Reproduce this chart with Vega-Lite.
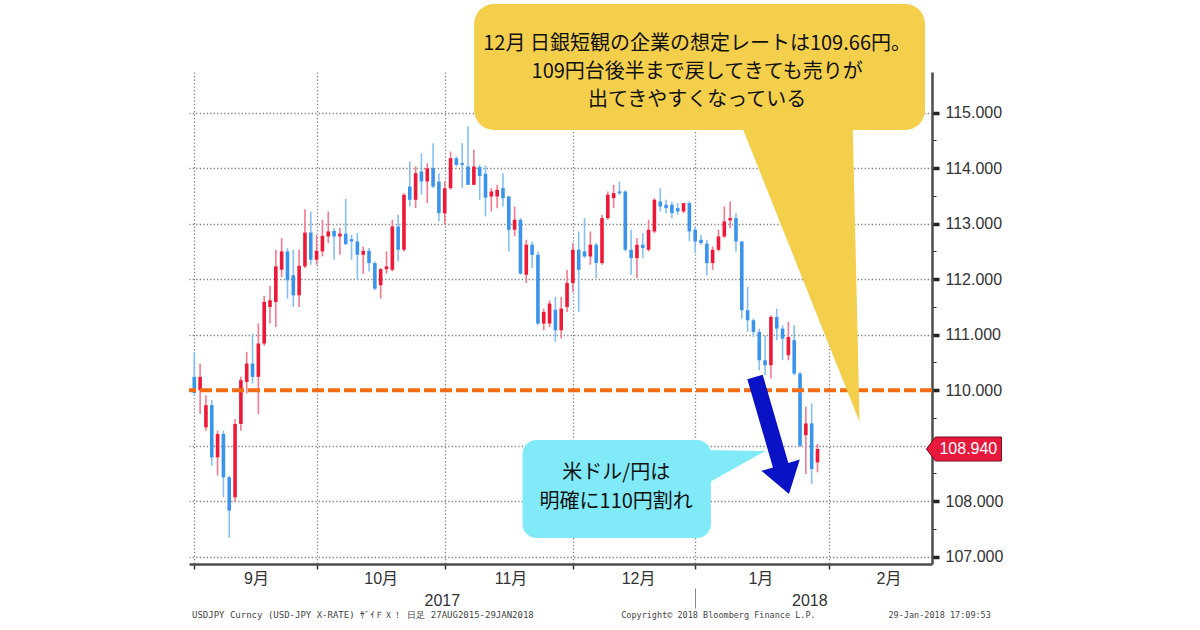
{
  "$schema": "https://vega.github.io/schema/vega-lite/v6.json",
  "width": 743,
  "height": 492,
  "autosize": "none",
  "padding": {"left": 189, "top": 72, "right": 268, "bottom": 66},
  "background": "#ffffff",
  "config": {"view": {"stroke": null}, "axis": {"labelFont": "Liberation Sans", "titleFont": "Liberation Sans"}},
  "datasets": {
    "fx": [
      {"k":0,"o":110.24,"h":110.69,"l":109.91,"c":109.95},
      {"k":1,"o":110.0,"h":110.48,"l":109.57,"c":110.24},
      {"k":2,"o":109.33,"h":109.91,"l":109.27,"c":109.73},
      {"k":3,"o":109.73,"h":109.82,"l":108.64,"c":108.79},
      {"k":4,"o":108.79,"h":109.27,"l":108.46,"c":109.21},
      {"k":5,"o":109.21,"h":109.27,"l":108.07,"c":108.43},
      {"k":6,"o":108.43,"h":108.46,"l":107.34,"c":107.83},
      {"k":7,"o":108.07,"h":109.48,"l":107.98,"c":109.39},
      {"k":8,"o":109.39,"h":110.24,"l":109.27,"c":110.18},
      {"k":9,"o":110.15,"h":110.69,"l":109.94,"c":110.48},
      {"k":10,"o":110.48,"h":111.02,"l":110.12,"c":110.24},
      {"k":11,"o":110.24,"h":111.2,"l":109.57,"c":110.84},
      {"k":12,"o":110.84,"h":111.7,"l":110.8,"c":111.59},
      {"k":13,"o":111.5,"h":111.88,"l":111.2,"c":111.62},
      {"k":14,"o":111.59,"h":112.53,"l":111.14,"c":112.23},
      {"k":15,"o":112.17,"h":112.74,"l":112.04,"c":112.5},
      {"k":16,"o":112.5,"h":112.56,"l":111.65,"c":111.98},
      {"k":17,"o":112.07,"h":112.53,"l":111.5,"c":111.71},
      {"k":18,"o":111.71,"h":112.53,"l":111.5,"c":112.24},
      {"k":19,"o":112.23,"h":113.26,"l":112.2,"c":112.84},
      {"k":20,"o":112.84,"h":113.22,"l":112.26,"c":112.35},
      {"k":21,"o":112.35,"h":112.8,"l":112.26,"c":112.51},
      {"k":22,"o":112.5,"h":113.07,"l":112.41,"c":112.78},
      {"k":23,"o":112.77,"h":113.22,"l":112.65,"c":112.86},
      {"k":24,"o":112.87,"h":112.92,"l":112.35,"c":112.77},
      {"k":25,"o":112.77,"h":112.92,"l":112.44,"c":112.82},
      {"k":26,"o":112.82,"h":113.45,"l":112.62,"c":112.63},
      {"k":27,"o":112.72,"h":112.8,"l":112.35,"c":112.68},
      {"k":28,"o":112.68,"h":112.83,"l":111.98,"c":112.44},
      {"k":29,"o":112.44,"h":112.59,"l":112.1,"c":112.51},
      {"k":30,"o":112.51,"h":112.56,"l":112.14,"c":112.29},
      {"k":31,"o":112.29,"h":112.32,"l":111.8,"c":111.83},
      {"k":32,"o":111.89,"h":112.2,"l":111.65,"c":112.18},
      {"k":33,"o":112.18,"h":112.5,"l":112.1,"c":112.23},
      {"k":34,"o":112.17,"h":113.07,"l":112.14,"c":112.95},
      {"k":35,"o":112.95,"h":113.16,"l":112.32,"c":112.53},
      {"k":36,"o":112.53,"h":113.55,"l":112.5,"c":113.52},
      {"k":37,"o":113.67,"h":114.12,"l":113.31,"c":113.43},
      {"k":38,"o":113.43,"h":114.03,"l":113.28,"c":113.91},
      {"k":39,"o":113.94,"h":114.27,"l":113.52,"c":113.76},
      {"k":40,"o":113.76,"h":114.09,"l":113.37,"c":114.0},
      {"k":41,"o":114.0,"h":114.45,"l":113.64,"c":113.67},
      {"k":42,"o":113.76,"h":113.91,"l":113.04,"c":113.19},
      {"k":43,"o":113.19,"h":113.76,"l":112.98,"c":113.64},
      {"k":44,"o":113.64,"h":114.3,"l":113.61,"c":114.18},
      {"k":45,"o":114.18,"h":114.21,"l":114.03,"c":114.06},
      {"k":46,"o":114.09,"h":114.45,"l":113.64,"c":114.06},
      {"k":47,"o":114.03,"h":114.75,"l":113.7,"c":113.7},
      {"k":48,"o":113.7,"h":114.33,"l":113.7,"c":114.03},
      {"k":49,"o":114.02,"h":114.06,"l":113.43,"c":113.86},
      {"k":50,"o":113.9,"h":114.05,"l":113.13,"c":113.47},
      {"k":51,"o":113.49,"h":113.64,"l":113.22,"c":113.58},
      {"k":52,"o":113.49,"h":113.7,"l":113.28,"c":113.61},
      {"k":53,"o":113.64,"h":113.91,"l":113.31,"c":113.46},
      {"k":54,"o":113.49,"h":113.49,"l":112.5,"c":112.89},
      {"k":55,"o":112.89,"h":113.31,"l":112.77,"c":113.07},
      {"k":56,"o":113.07,"h":113.1,"l":112.08,"c":112.1},
      {"k":57,"o":112.08,"h":112.71,"l":111.93,"c":112.62},
      {"k":58,"o":112.62,"h":112.68,"l":112.2,"c":112.44},
      {"k":59,"o":112.44,"h":112.5,"l":111.17,"c":111.2},
      {"k":60,"o":111.2,"h":111.47,"l":111.08,"c":111.41},
      {"k":61,"o":111.2,"h":111.62,"l":111.14,"c":111.56},
      {"k":62,"o":111.45,"h":111.68,"l":110.87,"c":111.08},
      {"k":63,"o":111.08,"h":111.68,"l":110.93,"c":111.47},
      {"k":64,"o":111.5,"h":112.17,"l":111.41,"c":111.93},
      {"k":65,"o":111.93,"h":112.65,"l":111.77,"c":112.53},
      {"k":66,"o":112.53,"h":112.86,"l":111.41,"c":112.17},
      {"k":67,"o":112.5,"h":113.1,"l":112.38,"c":112.41},
      {"k":68,"o":112.41,"h":112.86,"l":112.26,"c":112.62},
      {"k":69,"o":112.62,"h":112.65,"l":112.02,"c":112.29},
      {"k":70,"o":112.29,"h":113.16,"l":112.26,"c":113.1},
      {"k":71,"o":113.1,"h":113.58,"l":113.07,"c":113.52},
      {"k":72,"o":113.46,"h":113.7,"l":113.28,"c":113.55},
      {"k":73,"o":113.58,"h":113.76,"l":113.52,"c":113.55},
      {"k":74,"o":113.58,"h":113.6,"l":112.5,"c":112.53},
      {"k":75,"o":112.53,"h":112.89,"l":112.08,"c":112.38},
      {"k":76,"o":112.38,"h":112.74,"l":112.02,"c":112.62},
      {"k":77,"o":112.62,"h":112.83,"l":112.38,"c":112.56},
      {"k":78,"o":112.53,"h":113.07,"l":112.5,"c":112.89},
      {"k":79,"o":112.86,"h":113.46,"l":112.83,"c":113.43},
      {"k":80,"o":113.4,"h":113.64,"l":113.22,"c":113.31},
      {"k":81,"o":113.34,"h":113.43,"l":113.19,"c":113.28},
      {"k":82,"o":113.34,"h":113.4,"l":113.1,"c":113.19},
      {"k":83,"o":113.28,"h":113.37,"l":113.16,"c":113.22},
      {"k":84,"o":113.22,"h":113.37,"l":113.19,"c":113.37},
      {"k":85,"o":113.37,"h":113.4,"l":112.68,"c":112.86},
      {"k":86,"o":112.89,"h":112.95,"l":112.47,"c":112.68},
      {"k":87,"o":112.71,"h":112.8,"l":112.62,"c":112.65},
      {"k":88,"o":112.64,"h":112.71,"l":112.07,"c":112.29},
      {"k":89,"o":112.29,"h":112.59,"l":112.17,"c":112.53},
      {"k":90,"o":112.53,"h":112.89,"l":112.5,"c":112.77},
      {"k":91,"o":112.77,"h":113.31,"l":112.74,"c":113.04},
      {"k":92,"o":113.06,"h":113.4,"l":112.92,"c":113.1},
      {"k":93,"o":113.1,"h":113.19,"l":112.5,"c":112.68},
      {"k":94,"o":112.68,"h":112.68,"l":111.29,"c":111.44},
      {"k":95,"o":111.44,"h":111.86,"l":111.05,"c":111.26},
      {"k":96,"o":111.26,"h":111.29,"l":110.96,"c":111.05},
      {"k":97,"o":111.05,"h":111.11,"l":110.36,"c":110.54},
      {"k":98,"o":110.54,"h":110.99,"l":110.27,"c":110.45},
      {"k":99,"o":110.45,"h":111.35,"l":110.21,"c":111.32},
      {"k":100,"o":111.32,"h":111.47,"l":110.9,"c":111.11},
      {"k":101,"o":111.11,"h":111.17,"l":110.54,"c":110.93},
      {"k":102,"o":110.63,"h":111.23,"l":110.54,"c":110.96},
      {"k":103,"o":110.9,"h":111.17,"l":110.27,"c":110.3},
      {"k":104,"o":110.3,"h":110.33,"l":108.97,"c":109.0},
      {"k":105,"o":109.19,"h":109.7,"l":108.49,"c":109.4},
      {"k":106,"o":109.4,"h":109.76,"l":108.31,"c":108.58},
      {"k":107,"o":108.7,"h":109.03,"l":108.52,"c":108.94}
    ]
  },
  "data": {"name": "fx"},
  "layer": [
    {
      "mark": {"type": "rule", "strokeWidth": 1.6},
      "encoding": {
        "x": {
          "field": "k", "type": "quantitative",
          "scale": {"domain": [-0.05, 125.8], "nice": false, "zero": false},
          "axis": {
            "orient": "bottom", "title": null, "values": [0, 21, 43, 65, 86, 109],
            "labels": false, "ticks": true, "tickSize": 5, "tickColor": "#333333", "tickWidth": 1.5,
            "domain": true, "domainColor": "#4d4d4d", "domainWidth": 2.5,
            "grid": true, "gridColor": "#808080", "gridDash": [1.3, 2.2], "gridWidth": 1.3
          }
        },
        "y": {
          "field": "l", "type": "quantitative",
          "scale": {"domain": [106.868, 115.733], "nice": false, "zero": false},
          "axis": {
            "orient": "right", "title": null,
            "values": [107, 107.5, 108, 108.5, 109, 109.5, 110, 110.5, 111, 111.5, 112, 112.5, 113, 113.5, 114, 114.5, 115],
            "labelExpr": "(datum.value % 1 === 0 && datum.value !== 109) ? format(datum.value, '.3f') : ''",
            "labelFont": "Liberation Sans", "labelFontSize": 16, "labelColor": "#333333",
            "labelPadding": 6, "labelOverlap": false, "labelFlush": false,
            "tickSize": {"condition": {"test": "datum.value % 1 === 0", "value": 7}, "value": 4},
            "tickWidth": {"condition": {"test": "datum.value % 1 === 0", "value": 3.5}, "value": 1},
            "tickColor": "#222222",
            "domain": true, "domainColor": "#4d4d4d", "domainWidth": 2.5,
            "grid": true, "gridColor": "#808080", "gridDash": [1.3, 2.2], "gridWidth": 1.3,
            "gridOpacity": {"condition": {"test": "datum.value % 1 === 0 && datum.value !== 110", "value": 1}, "value": 0}
          }
        },
        "y2": {"field": "h"},
        "color": {"condition": {"test": "datum.c >= datum.o", "value": "#F47A8F"}, "value": "#86C0F3"}
      }
    },
    {
      "mark": {"type": "bar", "size": 3.6},
      "encoding": {
        "x": {
          "field": "k", "type": "quantitative",
          "scale": {"domain": [-0.05, 125.8], "nice": false, "zero": false},
          "axis": {
            "orient": "bottom", "title": null, "values": [10.6, 32, 54.3, 76.2, 97.2, 119.2],
            "ticks": false, "domain": false, "grid": false,
            "labelExpr": "datum.value < 20 ? '9月' : datum.value < 40 ? '10月' : datum.value < 60 ? '11月' : datum.value < 85 ? '12月' : datum.value < 110 ? '1月' : '2月'",
            "labelFont": "Liberation Sans, Noto Sans CJK JP", "labelFontSize": 16, "labelColor": "#333333",
            "labelPadding": 6, "labelFlush": false, "labelOverlap": false
          }
        },
        "y": {"field": "o", "type": "quantitative", "scale": {"domain": [106.868, 115.733], "nice": false, "zero": false}, "axis": null},
        "y2": {"field": "c"},
        "color": {"condition": {"test": "datum.c >= datum.o", "value": "#EE1838"}, "value": "#3A94EC"}
      }
    },
    {
      "data": {"values": [{}]},
      "mark": {"type": "rule", "color": "#F26B15", "strokeWidth": 4, "strokeDash": [12, 4]},
      "encoding": {
        "y": {"datum": 110, "type": "quantitative", "scale": {"domain": [106.868, 115.733], "nice": false, "zero": false}, "axis": null}
      }
    },
    {
      "data": {"values": [{}]},
      "mark": {"type": "rect", "color": "#F4CF4B", "cornerRadius": 20},
      "encoding": {
        "x": {
          "datum": 48.05, "type": "quantitative",
          "scale": {"domain": [-0.05, 125.8], "nice": false, "zero": false},
          "axis": {
            "orient": "bottom", "title": null, "offset": 24, "values": [42.5, 86, 105.6],
            "domain": false, "grid": false, "ticks": true, "tickSize": 20, "tickWidth": 1, "tickColor": "#888888",
            "tickOpacity": {"condition": {"test": "datum.value === 86", "value": 1}, "value": 0},
            "labelExpr": "datum.value === 86 ? '' : (datum.value < 60 ? '2017' : '2018')",
            "labelFont": "Liberation Sans", "labelFontSize": 16, "labelColor": "#333333",
            "labelPadding": -16, "labelFlush": false, "labelOverlap": false
          }
        },
        "x2": {"datum": 125.45},
        "y": {"datum": 116.958, "type": "quantitative", "scale": {"domain": [106.868, 115.733], "nice": false, "zero": false}, "axis": null},
        "y2": {"datum": 114.688}
      }
    },
    {
      "data": {"values": [{}]},
      "mark": {"type": "point", "filled": true, "opacity": 1, "color": "#F4CF4B", "strokeWidth": 0, "size": 90000,
               "shape": "M-0.393,-0.993L0.347,-0.993L0.393,0.98Z"},
      "encoding": {
        "x": {"datum": 104.11, "type": "quantitative", "scale": {"domain": [-0.05, 125.8], "nice": false, "zero": false}, "axis": null},
        "y": {"datum": 112.075, "type": "quantitative", "scale": {"domain": [106.868, 115.733], "nice": false, "zero": false}, "axis": null}
      }
    },
    {
      "data": {"values": [{}]},
      "mark": {"type": "text", "text": ["12月 日銀短観の企業の想定レートは109.66円。", "109円台後半まで戻してきても売りが", "出てきやすくなっている"],
               "font": "Noto Sans CJK JP", "fontSize": 20, "lineHeight": 28, "align": "center", "baseline": "middle", "color": "#111111"},
      "encoding": {
        "x": {"datum": 86.33, "type": "quantitative", "scale": {"domain": [-0.05, 125.8], "nice": false, "zero": false}, "axis": null},
        "y": {"datum": 116.24, "type": "quantitative", "scale": {"domain": [106.868, 115.733], "nice": false, "zero": false}, "axis": null}
      }
    },
    {
      "data": {"values": [{}]},
      "mark": {"type": "rect", "color": "#80EAF9", "cornerRadius": 14},
      "encoding": {
        "x": {"datum": 56.35, "type": "quantitative", "scale": {"domain": [-0.05, 125.8], "nice": false, "zero": false}, "axis": null},
        "x2": {"datum": 88.7},
        "y": {"datum": 109.102, "type": "quantitative", "scale": {"domain": [106.868, 115.733], "nice": false, "zero": false}, "axis": null},
        "y2": {"datum": 107.337}
      }
    },
    {
      "data": {"values": [{}]},
      "mark": {"type": "point", "filled": true, "opacity": 1, "color": "#80EAF9", "strokeWidth": 0, "size": 6400,
               "shape": "M-0.775,-0.45L-0.775,0.45L0.8,-0.425Z"},
      "encoding": {
        "x": {"datum": 92.59, "type": "quantitative", "scale": {"domain": [-0.05, 125.8], "nice": false, "zero": false}, "axis": null},
        "y": {"datum": 108.598, "type": "quantitative", "scale": {"domain": [106.868, 115.733], "nice": false, "zero": false}, "axis": null}
      }
    },
    {
      "data": {"values": [{}]},
      "mark": {"type": "text", "text": ["米ドル/円は", "明確に110円割れ"],
               "font": "Noto Sans CJK JP", "fontSize": 20, "lineHeight": 29, "align": "center", "baseline": "middle", "color": "#111111"},
      "encoding": {
        "x": {"datum": 72.44, "type": "quantitative", "scale": {"domain": [-0.05, 125.8], "nice": false, "zero": false}, "axis": null},
        "y": {"datum": 108.508, "type": "quantitative", "scale": {"domain": [106.868, 115.733], "nice": false, "zero": false}, "axis": null}
      }
    },
    {
      "data": {"values": [{}]},
      "mark": {"type": "point", "filled": true, "opacity": 1, "color": "#0A12C6", "strokeWidth": 0, "size": 14400,
               "shape": "M-0.437,-0.922L-0.18,-0.995L0.247,0.475L0.438,0.418L0.258,0.992L-0.202,0.605L-0.01,0.548Z"},
      "encoding": {
        "x": {"datum": 99.45, "type": "quantitative", "scale": {"domain": [-0.05, 125.8], "nice": false, "zero": false}, "axis": null},
        "y": {"datum": 109.201, "type": "quantitative", "scale": {"domain": [106.868, 115.733], "nice": false, "zero": false}, "axis": null}
      }
    },
    {
      "data": {"values": [{}]},
      "mark": {"type": "point", "filled": true, "opacity": 1, "fill": "#E8193C", "stroke": "#7A0A1A", "strokeWidth": 1, "size": 6400,
               "shape": "M-0.95,0L-0.725,-0.3L0.925,-0.3L0.925,0.3L-0.725,0.3Z"},
      "encoding": {
        "x": {"datum": 132.23, "type": "quantitative", "scale": {"domain": [-0.05, 125.8], "nice": false, "zero": false}, "axis": null},
        "y": {"datum": 108.94, "type": "quantitative", "scale": {"domain": [106.868, 115.733], "nice": false, "zero": false}, "axis": null}
      }
    },
    {
      "data": {"values": [{}]},
      "mark": {"type": "text", "text": "108.940", "font": "Liberation Sans", "fontSize": 16, "align": "center", "baseline": "middle", "color": "#ffffff"},
      "encoding": {
        "x": {"datum": 132.9, "type": "quantitative", "scale": {"domain": [-0.05, 125.8], "nice": false, "zero": false}, "axis": null},
        "y": {"datum": 108.94, "type": "quantitative", "scale": {"domain": [106.868, 115.733], "nice": false, "zero": false}, "axis": null}
      }
    },
    {
      "data": {"values": [{}]},
      "mark": {"type": "text", "text": "USDJPY Curncy (USD-JPY X-RATE) ｻﾞｲＦＸ！  日足 27AUG2015-29JAN2018", "font": "DejaVu Sans Mono", "fontSize": 9, "align": "left", "baseline": "middle", "color": "#444444"},
      "encoding": {
        "x": {"datum": -0.39, "type": "quantitative", "scale": {"domain": [-0.05, 125.8], "nice": false, "zero": false}, "axis": null},
        "y": {"datum": 105.949, "type": "quantitative", "scale": {"domain": [106.868, 115.733], "nice": false, "zero": false}, "axis": null}
      }
    },
    {
      "data": {"values": [{}]},
      "mark": {"type": "text", "text": "Copyright© 2018 Bloomberg Finance L.P.", "font": "DejaVu Sans Mono", "fontSize": 8.5, "align": "left", "baseline": "middle", "color": "#444444"},
      "encoding": {
        "x": {"datum": 73.29, "type": "quantitative", "scale": {"domain": [-0.05, 125.8], "nice": false, "zero": false}, "axis": null},
        "y": {"datum": 105.949, "type": "quantitative", "scale": {"domain": [106.868, 115.733], "nice": false, "zero": false}, "axis": null}
      }
    },
    {
      "data": {"values": [{}]},
      "mark": {"type": "text", "text": "29-Jan-2018 17:09:53", "font": "DejaVu Sans Mono", "fontSize": 8.5, "align": "left", "baseline": "middle", "color": "#444444"},
      "encoding": {
        "x": {"datum": 119.19, "type": "quantitative", "scale": {"domain": [-0.05, 125.8], "nice": false, "zero": false}, "axis": null},
        "y": {"datum": 105.949, "type": "quantitative", "scale": {"domain": [106.868, 115.733], "nice": false, "zero": false}, "axis": null}
      }
    }
  ],
  "resolve": {"axis": {"x": "independent", "y": "independent"}}
}
